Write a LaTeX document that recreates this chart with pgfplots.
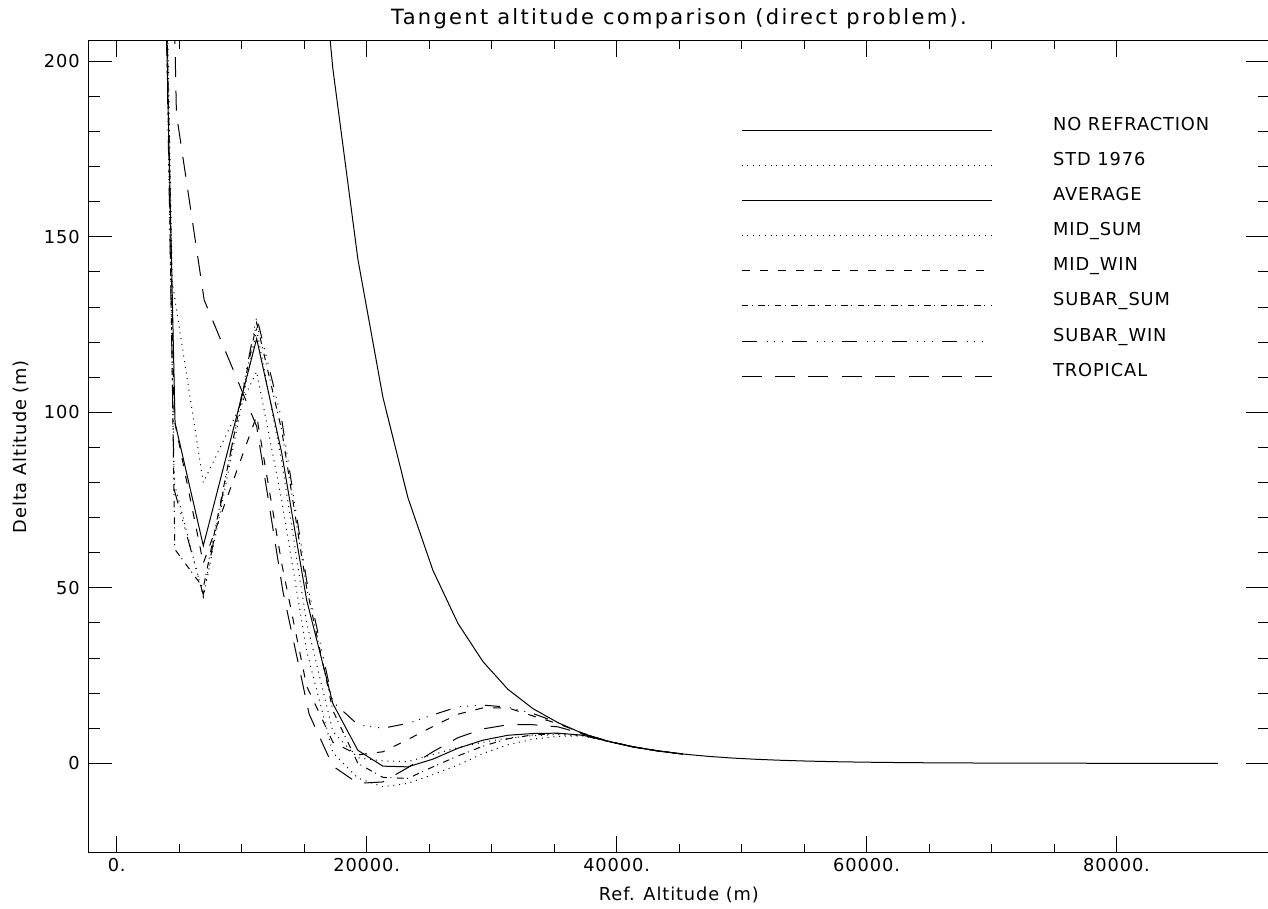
\documentclass[border=0pt]{standalone}
\usepackage{fontspec}
\setmainfont{DejaVu Sans}[LetterSpace=5]
\usepackage{pgfplots}
\pgfplotsset{compat=1.18}
\newcommand{\lblfont}{\fontsize{8.9}{10}\selectfont}
\begin{document}
\begin{tikzpicture}
\pgfplotsset{
  common/.style={scale only axis, width=590.6pt, height=405.75pt,
    xmin=-2272, xmax=92240, ymin=-25.4, ymax=205.8,
    scaled x ticks=false, scaled y ticks=false,
    axis line style={line width=0.5pt},
    tick style={line width=0.5pt, black},
    tick align=inside, tick pos=both},
  dl/.style={line width=0.5pt, black},
}
\begin{axis}[common,
  xtick={0,20000,40000,60000,80000},
  xticklabels={0.,20000.,40000.,60000.,80000.},
  minor x tick num=3,
  ytick=\empty,
  major tick length=8pt, minor tick length=4pt,
  xticklabel style={font=\lblfont, anchor=base, inner sep=0pt, yshift=-9.6pt},
  xlabel={Ref. Altitude (m)},
  x label style={at={(axis description cs:0.5,0)}, anchor=base, yshift=-23.75pt, font=\lblfont},
  title={Tangent altitude comparison (direct problem).},
  every axis title shift=0pt,
  title style={at={(axis description cs:0.5,1)}, anchor=base, inner sep=0pt, yshift=8pt, font=\fontsize{10.5}{12}\selectfont\addfontfeatures{LetterSpace=11}},
]
% NO REFRACTION
\addplot[dl] coordinates {(13300,375) (15300,272.4) (17300,197.8) (19300,143.6) (21300,104.3) (23300,75.7) (25300,55.0) (27300,39.9) (29300,29.0) (31300,21.1) (33300,15.6) (35300,11.6) (37300,8.5) (39300,6.3) (41300,4.71) (43300,3.54) (45300,2.66) (47300,2.00) (49300,1.50) (51300,1.13) (53300,0.85) (55300,0.64) (57300,0.48) (59300,0.36) (61300,0.27) (63300,0.20) (65300,0.15) (67300,0.115) (69300,0.087) (71300,0.065) (73300,0.049) (75300,0.037) (77300,0.028) (79300,0.021) (81300,0.016) (83300,0.012) (85300,0.009) (87300,0.007) (88100,0.006)};
% STD 1976
\addplot[dl, dash pattern=on 0.5pt off 2.4pt] coordinates {(3010,420) (4450,137) (6930,80) (11200,111.6) (13200,75) (15200,32) (17300,3) (19300,-4.2) (21300,-6.7) (23300,-5.7) (25300,-3.2) (27300,-0.5) (29300,2.8) (31300,5.3) (33300,6.9) (35300,7.7) (37300,7.8) (39300,6.3) (41300,4.71) (43300,3.54) (45300,2.66)};
% AVERAGE
\addplot[dl] coordinates {(2680,420) (4670,97) (6930,62) (11200,121) (13200,88.5) (15200,46.5) (17300,17) (19300,3.7) (21300,-0.8) (23300,-1) (25300,1.2) (27300,4.3) (29300,6.6) (31300,8) (33300,8.5) (35300,8.6) (37300,8.0) (39300,6.3) (41300,4.71) (43300,3.54) (45300,2.66)};
% MID_SUM
\addplot[dl, dash pattern=on 0.5pt off 2.4pt] coordinates {(2980,420) (4600,80) (6930,47.4) (11200,123.5) (13200,86) (15200,40) (17300,9) (19300,1.6) (21300,0.7) (23300,0.5) (25300,2.5) (27300,4.5) (29300,6) (31300,7.2) (33300,7.9) (35300,8.2) (37300,7.9) (39300,6.3) (41300,4.71) (43300,3.54) (45300,2.66)};
% MID_WIN
\addplot[dl, dash pattern=on 4pt off 5pt] coordinates {(2960,420) (4600,98) (6930,57) (11200,99) (13200,57) (15200,22) (17300,6) (19300,2.4) (21300,3.3) (23300,6.8) (25300,10.5) (27300,14) (29300,15.8) (31300,15.8) (33300,13.5) (35300,11.3) (37300,8.6) (39300,6.3) (41300,4.71) (43300,3.54) (45300,2.66)};
% SUBAR_SUM
\addplot[dl, dash pattern=on 3.3pt off 1.7pt on 0.5pt off 2.8pt] coordinates {(3160,420) (4650,61) (6930,50) (11200,125.5) (13200,95) (15200,50) (17300,15) (19300,0) (21300,-4) (23300,-4.3) (25300,-1) (27300,2.1) (29300,4.9) (31300,7.0) (33300,8.1) (35300,8.5) (37300,8.0) (39300,6.3) (41300,4.71) (43300,3.54) (45300,2.66)};
% SUBAR_WIN
\addplot[dl, dash pattern=on 7.5pt off 5pt on 0.5pt off 3pt on 0.5pt off 3.5pt on 0.5pt off 4.5pt] coordinates {(2990,420) (4600,78) (6930,48) (11200,127.2) (13200,98) (15200,52) (17300,17.5) (19300,11) (21300,10) (23300,11.4) (25300,13.8) (27300,16.1) (29300,16.6) (31300,16) (33300,14.2) (35300,11.6) (37300,8.3) (39300,6.3) (41300,4.71) (43300,3.54) (45300,2.66)};
% TROPICAL
\addplot[dl, dash pattern=on 10pt off 6.7pt] coordinates {(3400,420) (4780,185) (7000,132) (11200,96) (13300,49) (15400,14) (17300,-0.8) (19300,-5.7) (21300,-5.3) (23300,-1.2) (25300,3.3) (27300,7.3) (29300,9.8) (31300,11) (33300,11) (35300,10.4) (37300,8.4) (39300,6.3) (41300,4.71) (43300,3.54) (45300,2.66)};
% legend lines
\addplot[dl] coordinates {(50000,180.3) (70000,180.3)};
\addplot[dl, dash pattern=on 0.5pt off 2.4pt] coordinates {(50000,170.3) (70000,170.3)};
\addplot[dl] coordinates {(50000,160.3) (70000,160.3)};
\addplot[dl, dash pattern=on 0.5pt off 2.4pt] coordinates {(50000,150.3) (70000,150.3)};
\addplot[dl, dash pattern=on 4pt off 5pt] coordinates {(50000,140.3) (70000,140.3)};
\addplot[dl, dash pattern=on 3.3pt off 1.7pt on 0.5pt off 2.8pt] coordinates {(50000,130.3) (70000,130.3)};
\addplot[dl, dash pattern=on 7.5pt off 5pt on 0.5pt off 3pt on 0.5pt off 3.5pt on 0.5pt off 4.5pt] coordinates {(50000,120.3) (70000,120.3)};
\addplot[dl, dash pattern=on 10pt off 6.7pt] coordinates {(50000,110.3) (70000,110.3)};
\node[anchor=base west, inner sep=0pt, font=\lblfont] at (axis cs:74900,180.3) {NO REFRACTION};
\node[anchor=base west, inner sep=0pt, font=\lblfont] at (axis cs:74900,170.3) {STD 1976};
\node[anchor=base west, inner sep=0pt, font=\lblfont] at (axis cs:74900,160.3) {AVERAGE};
\node[anchor=base west, inner sep=0pt, font=\lblfont] at (axis cs:74900,150.3) {MID\_SUM};
\node[anchor=base west, inner sep=0pt, font=\lblfont] at (axis cs:74900,140.3) {MID\_WIN};
\node[anchor=base west, inner sep=0pt, font=\lblfont] at (axis cs:74900,130.3) {SUBAR\_SUM};
\node[anchor=base west, inner sep=0pt, font=\lblfont] at (axis cs:74900,120.3) {SUBAR\_WIN};
\node[anchor=base west, inner sep=0pt, font=\lblfont] at (axis cs:74900,110.3) {TROPICAL};
\end{axis}
\begin{axis}[common,
  xtick=\empty,
  ytick={0,50,100,150,200},
  yticklabels={0,50,100,150,200},
  minor y tick num=4,
  major tick length=12pt, minor tick length=6pt,
  yticklabel style={font=\lblfont, anchor=east, inner sep=0pt, xshift=-4.15pt},
  ylabel={Delta Altitude (m)},
  y label style={at={([xshift=-30.8pt]axis description cs:0,0.5)}, anchor=base, font=\lblfont},
]
\end{axis}
\pgfresetboundingbox
\useasboundingbox (-44.15pt,-28.25pt) rectangle (589.85pt,426.25pt);
\end{tikzpicture}
\end{document}
